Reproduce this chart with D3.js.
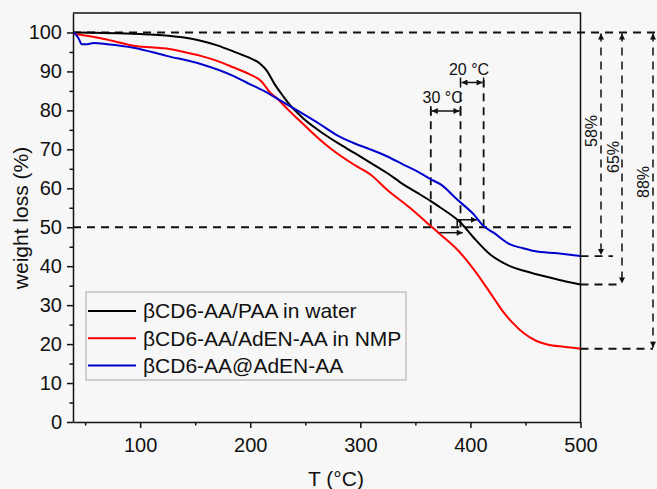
<!DOCTYPE html>
<html>
<head>
<meta charset="utf-8">
<script src="https://cdn.jsdelivr.net/npm/d3@7"></script>
<style>
  body { margin: 0; background: #f7f7f7; }
  text { font-family: "Liberation Sans", Arial, sans-serif; fill: #111; }
</style>
</head>
<body>
<div id="chart"></div>
<script>
// TGA curves (T in °C, weight in %)
const waterT = [40, 60, 80, 100, 120, 140, 155, 170, 185, 200, 209, 215, 222, 230, 236, 248, 262, 279, 295, 309, 325, 339, 352, 364, 373, 391, 403, 418, 433, 455, 479, 500];
const waterW = [100, 99.9, 99.8, 99.6, 99.3, 98.7, 97.9, 96.7, 95.1, 93.4, 92.0, 90.2, 86.8, 83.6, 81.4, 78.0, 74.9, 71.7, 69.0, 66.6, 63.8, 61.0, 58.8, 56.7, 55.0, 51.2, 47.3, 43.0, 40.4, 38.3, 36.6, 35.3];

const nmpT = [40, 50, 64, 80, 94, 110, 124, 140, 155, 170, 185, 200, 210, 218, 224, 235, 248, 260, 273, 294, 309, 324, 345, 364, 373, 388, 403, 421, 430, 440, 448, 460, 470, 485, 500];
const nmpW = [99.6, 99.2, 98.5, 97.5, 96.6, 96.2, 95.9, 95.0, 94.0, 92.7, 91.0, 89.2, 87.5, 84.6, 83.2, 80.0, 76.5, 73.3, 70.2, 66.1, 63.6, 59.7, 55.0, 50.3, 48.1, 44.3, 39.2, 31.9, 28.2, 25.0, 22.9, 20.8, 19.9, 19.3, 18.8];

const inclT = [40, 44, 47, 52, 58, 70, 94, 124, 155, 185, 200, 215, 218, 236, 248, 262, 279, 295, 309, 325, 339, 352, 364, 373, 388, 403, 412, 421, 436, 448, 458, 479, 500];
const inclW = [100, 98.5, 97.0, 97.0, 97.3, 97.0, 96.1, 94.0, 91.9, 88.8, 86.7, 84.6, 84.1, 81.1, 79.1, 76.7, 73.6, 71.5, 70.0, 68.1, 66.1, 64.3, 62.3, 61.0, 57.1, 53.3, 50.3, 48.6, 45.6, 44.6, 43.9, 43.3, 42.6];

const seriesNames = ["βCD6-AA/PAA in water", "βCD6-AA/AdEN-AA in NMP", "βCD6-AA@AdEN-AA"];
const seriesColors = ["#000000", "#ff0000", "#0000cc"];

const xTicks = [100, 200, 300, 400, 500];
const xMinor = [50, 150, 250, 350, 450];
const yTicks = [0, 10, 20, 30, 40, 50, 60, 70, 80, 90, 100];
const yMinor = [5, 15, 25, 35, 45, 55, 65, 75, 85, 95];

const refLevels = [100, 50];
const halfTemps = [364, 391, 412];      // T at 50 % for NMP, water, inclusion
const shiftLabels = ["30 °C", "20 °C"];
const lossLabels = ["58%", "65%", "88%"];

const width = 657, height = 489;
const x = d3.scaleLinear().domain([39, 500]).range([73, 580.5]);
const y = d3.scaleLinear().domain([0, 105]).range([422, 13]);
const FONT = '"Liberation Sans", Arial, sans-serif';
const INK = "#111";

const svg = d3.select("#chart").append("svg")
    .attr("width", width)
    .attr("height", height);

svg.append("defs").append("marker")
    .attr("id", "ah")
    .attr("viewBox", "0 0 10 10")
    .attr("refX", 10).attr("refY", 5)
    .attr("markerWidth", 8).attr("markerHeight", 6)
    .attr("markerUnits", "userSpaceOnUse")
    .attr("orient", "auto-start-reverse")
    .append("path")
    .attr("d", "M0,0L10,5L0,10Z")
    .attr("fill", INK);

// axes
const styleAxis = g => {
    g.attr("font-size", 20).attr("font-family", FONT);
    g.selectAll("line, path").attr("stroke", INK).attr("stroke-width", 1.5);
    g.selectAll("text").attr("fill", INK);
};
svg.append("g")
    .attr("transform", `translate(0,${y(0)})`)
    .call(d3.axisBottom(x).tickValues(xTicks).tickSize(6).tickPadding(10).tickSizeOuter(0))
    .call(styleAxis);
svg.append("g")
    .attr("transform", `translate(0,${y(0)})`)
    .call(d3.axisBottom(x).tickValues(xMinor).tickSize(3.5).tickFormat("").tickSizeOuter(0))
    .call(g => g.select(".domain").remove())
    .call(styleAxis);
svg.append("g")
    .attr("transform", `translate(${x.range()[0]},0)`)
    .call(d3.axisLeft(y).tickValues(yTicks).tickSize(6).tickPadding(5).tickSizeOuter(0))
    .call(styleAxis);
svg.append("g")
    .attr("transform", `translate(${x.range()[0]},0)`)
    .call(d3.axisLeft(y).tickValues(yMinor).tickSize(3.5).tickFormat("").tickSizeOuter(0))
    .call(g => g.select(".domain").remove())
    .call(styleAxis);

// frame top and right
svg.append("path")
    .attr("d", `M${x.range()[0]},${y.range()[1]}H${x.range()[1]}V${y(0)}`)
    .attr("fill", "none").attr("stroke", INK).attr("stroke-width", 1.5);

// axis titles
svg.append("text")
    .attr("transform", "translate(21,218) rotate(-90)")
    .attr("text-anchor", "middle")
    .attr("dy", "0.35em")
    .style("font-size", "21px")
    .text("weight loss (%)");
svg.append("text")
    .attr("x", 336).attr("y", 485.5)
    .attr("text-anchor", "middle")
    .style("font-size", "21px")
    .text("T (°C)");

// dashed guide lines
const dash = sel => sel.attr("stroke", INK).attr("stroke-width", 1.8)
    .attr("stroke-dasharray", "8,6").attr("fill", "none");

svg.append("line").call(dash)
    .attr("x1", x.range()[0]).attr("x2", 657)
    .attr("y1", y(refLevels[0])).attr("y2", y(refLevels[0]));
svg.append("line").call(dash)
    .attr("x1", x.range()[0]).attr("x2", 575)
    .attr("y1", y(refLevels[1])).attr("y2", y(refLevels[1]));

const vTops = [108, 90, 80];
halfTemps.forEach((t, i) => {
    svg.append("line").call(dash)
        .attr("x1", x(t)).attr("x2", x(t))
        .attr("y1", y(refLevels[1])).attr("y2", vTops[i]);
});

// temperature shift arrows
const shiftRows = [111, 82.5];
shiftLabels.forEach((lab, i) => {
    const x1 = x(halfTemps[i]), x2 = x(halfTemps[i + 1]), yy = shiftRows[i];
    svg.append("line")
        .attr("x1", x1 + 1).attr("x2", x2 - 1).attr("y1", yy).attr("y2", yy)
        .attr("stroke", INK).attr("stroke-width", 1.5)
        .attr("marker-start", "url(#ah)").attr("marker-end", "url(#ah)");
    [x1, x2].forEach(xx => svg.append("line")
        .attr("x1", xx).attr("x2", xx).attr("y1", yy - 5).attr("y2", yy + 5)
        .attr("stroke", INK).attr("stroke-width", 1.5));
    svg.append("text")
        .attr("x", (x1 + x2) / 2 - 3).attr("y", yy - 8)
        .attr("text-anchor", "middle")
        .style("font-size", "16px")
        .text(lab);
});

// small arrows at the 50 % line
svg.append("line")
    .attr("x1", x(370)).attr("x2", x(393)).attr("y1", y(48.6)).attr("y2", y(48.6))
    .attr("stroke", INK).attr("stroke-width", 1.5).attr("marker-end", "url(#ah)");
svg.append("path")
    .attr("d", `M${x(388)},${y(50.2)}V${y(51.9)}H${x(406)}`)
    .attr("fill", "none").attr("stroke", INK).attr("stroke-width", 1.5)
    .attr("marker-end", "url(#ah)");

// weight-loss arrows at the right
const residues = [inclW[inclW.length - 1], waterW[waterW.length - 1], nmpW[nmpW.length - 1]];
const arrowX = [601, 622, 653];
const hEnds = [613, 622, 653];
const labPos = [[591, 131], [613, 157], [643, 182]];
residues.forEach((r, i) => {
    svg.append("line").call(dash)
        .attr("x1", x(500)).attr("x2", hEnds[i])
        .attr("y1", y(r)).attr("y2", y(r));
    svg.append("line").call(dash)
        .attr("stroke-width", 1.5)
        .attr("x1", arrowX[i]).attr("x2", arrowX[i])
        .attr("y1", y(100) + 1).attr("y2", y(r) - 1)
        .attr("marker-start", "url(#ah)").attr("marker-end", "url(#ah)");
    svg.append("text")
        .attr("transform", `translate(${labPos[i][0]},${labPos[i][1]}) rotate(-90)`)
        .attr("text-anchor", "middle")
        .attr("dy", "0.35em")
        .style("font-size", "16px")
        .text(lossLabels[i]);
});

// curves
const series = [
    d3.zip(waterT, waterW),
    d3.zip(nmpT, nmpW),
    d3.zip(inclT, inclW)
];
const line = d3.line()
    .x(d => x(d[0]))
    .y(d => y(d[1]))
    .curve(d3.curveMonotoneX);
svg.append("g").selectAll("path")
    .data(series)
    .join("path")
    .attr("d", line)
    .attr("fill", "none")
    .attr("stroke", (d, i) => seriesColors[i])
    .attr("stroke-width", 2);

// legend
const legend = svg.append("g");
legend.append("rect")
    .attr("x", 86).attr("y", 292).attr("width", 320).attr("height", 88)
    .attr("fill", "#f7f7f7").attr("stroke", "#aaa").attr("stroke-width", 1);
const item = legend.selectAll("g")
    .data(seriesNames)
    .join("g")
    .attr("transform", (d, i) => `translate(0,${311 + i * 27.3})`);
item.append("line")
    .attr("x1", 88).attr("x2", 136)
    .attr("stroke", (d, i) => seriesColors[i])
    .attr("stroke-width", 2);
item.append("text")
    .attr("x", 143).attr("dy", "0.35em")
    .style("font-size", "21px")
    .text(d => d);
</script>
</body>
</html>
